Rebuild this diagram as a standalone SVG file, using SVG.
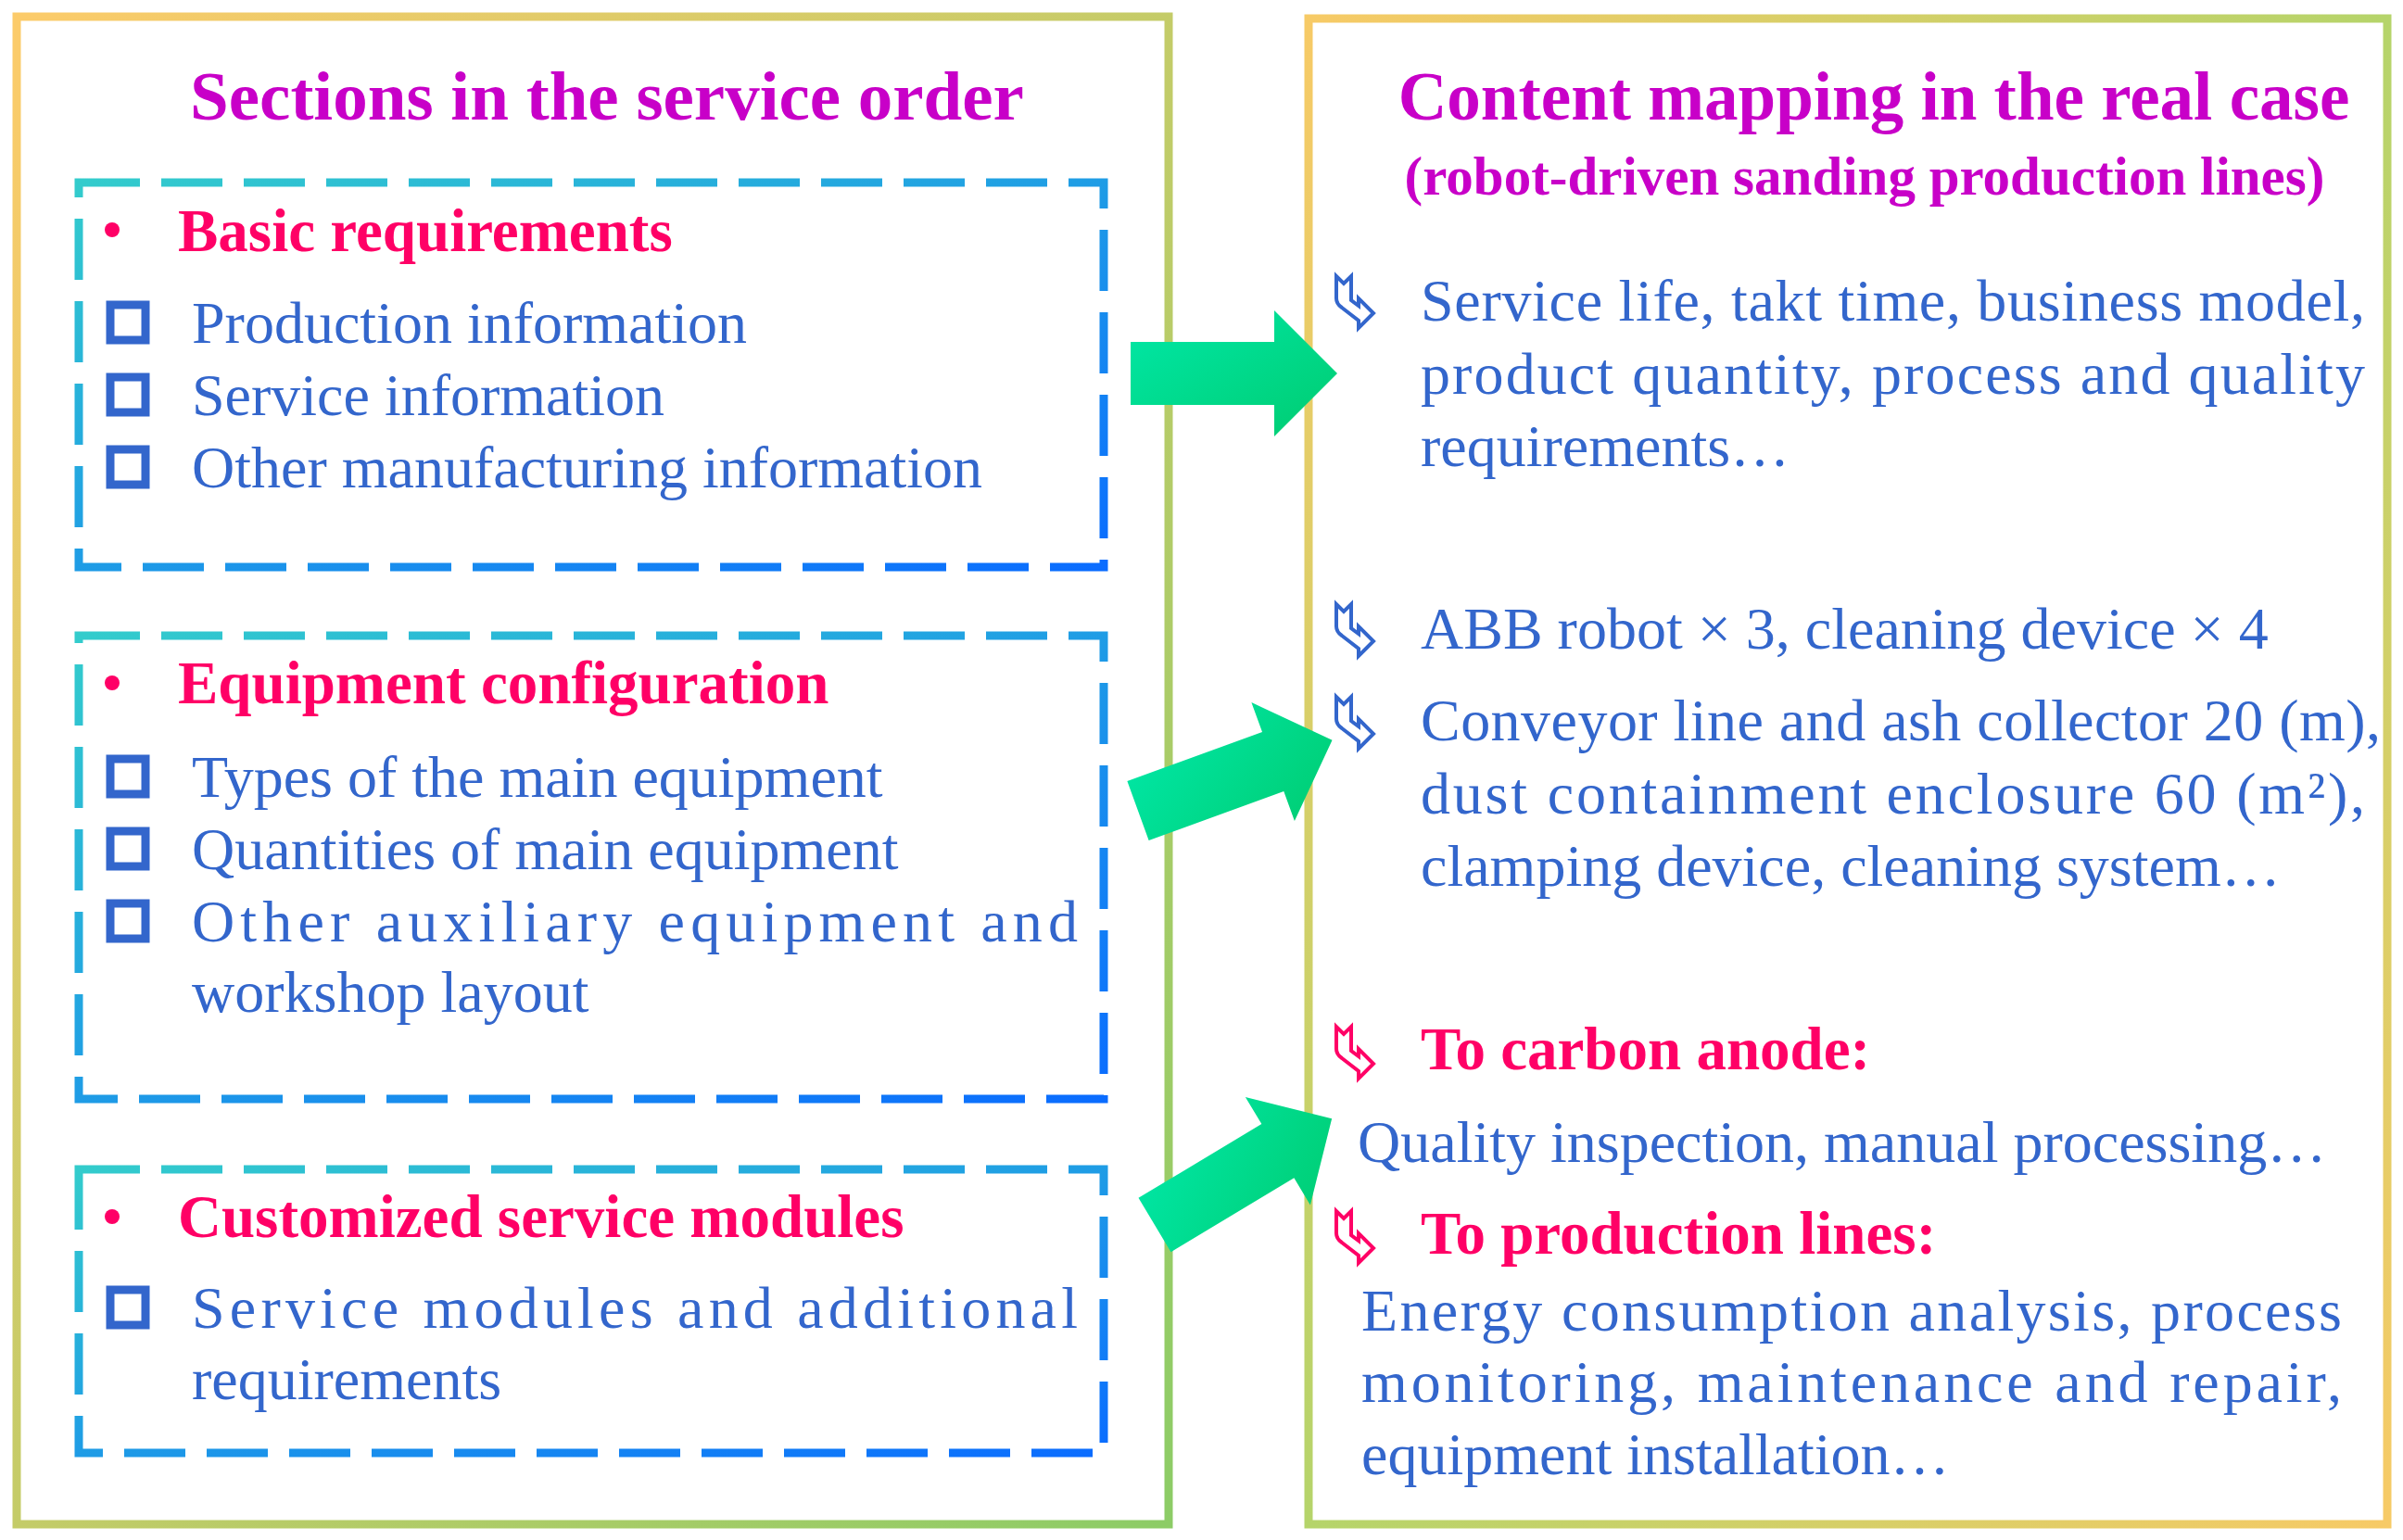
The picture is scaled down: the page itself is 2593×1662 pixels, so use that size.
<svg xmlns="http://www.w3.org/2000/svg" width="2593" height="1662" viewBox="0 0 2593 1662">
<defs>
<linearGradient id="og" x1="0" y1="0" x2="1" y2="1"><stop offset="0" stop-color="#fccb6a"/><stop offset="1" stop-color="#8ccc66"/></linearGradient>
<linearGradient id="og2" x1="1" y1="0" x2="0" y2="1"><stop offset="0" stop-color="#b5d46a"/><stop offset="0.5" stop-color="#f7ca66"/><stop offset="1" stop-color="#b5d46a"/></linearGradient>
<linearGradient id="db" x1="0" y1="0" x2="1" y2="1"><stop offset="0" stop-color="#33cccc"/><stop offset="1" stop-color="#0a6cff"/></linearGradient>
<linearGradient id="ag" x1="0" y1="0" x2="1" y2="1"><stop offset="0" stop-color="#00e8a8"/><stop offset="1" stop-color="#00cc70"/></linearGradient>
<path id="arw" d="M0,-34 H155 V-68 L223,0 L155,68 V34 H0 Z" fill="url(#ag)"/>
<path id="ico" d="M0,0 V24 Q0,30 6,34 L24,48 V56 L40,40 L24,24 V32 L16,26 V0 L8,8 Z" fill="none" stroke-width="4"/>
</defs>
<style>
.t{font-family:"Liberation Serif",serif}
.ti{font-size:75px;font-weight:bold;fill:#c800c8}
.h{font-size:65px;font-weight:bold;fill:#ff0066}
.b{font-size:64px;fill:#3366cc}
.cb{fill:none;stroke:#3366cc;stroke-width:9}
.dash{fill:none;stroke:url(#db);stroke-width:9;stroke-dasharray:66 23}
</style>
<rect width="2593" height="1662" fill="#fff"/>
<g id="left">
<rect x="18" y="18" width="1243" height="1627" fill="none" stroke="url(#og)" stroke-width="9"/>
<text class="t ti" x="655" y="129" text-anchor="middle">Sections in the service order</text>
</g>
<g id="box1">
<rect class="dash" x="85" y="197" width="1106" height="415"/>
<circle cx="121" cy="248" r="8" fill="#ff0066"/>
<text class="t h" x="192" y="271">Basic requirements</text>
<rect class="cb" x="119" y="329" width="38" height="38"/><text class="t b" x="207" y="370">Production information</text>
<rect class="cb" x="119" y="407" width="38" height="38"/><text class="t b" x="207" y="448">Service information</text>
<rect class="cb" x="119" y="485" width="38" height="38"/><text class="t b" x="207" y="526">Other manufacturing information</text>
</g>
<g id="box2">
<rect class="dash" x="85" y="686" width="1106" height="500"/>
<circle cx="121" cy="737" r="8" fill="#ff0066"/>
<text class="t h" x="192" y="759">Equipment configuration</text>
<rect class="cb" x="119" y="819" width="38" height="38"/><text class="t b" x="207" y="860">Types of the main equipment</text>
<rect class="cb" x="119" y="897" width="38" height="38"/><text class="t b" x="207" y="938">Quantities of main equipment</text>
<rect class="cb" x="119" y="975" width="38" height="38"/><text class="t b" x="207" y="1016" textLength="956" lengthAdjust="spacing">Other auxiliary equipment and</text>
<text class="t b" x="207" y="1092">workshop layout</text>
</g>
<g id="box3">
<rect class="dash" x="85" y="1262" width="1106" height="306"/>
<circle cx="121" cy="1313" r="8" fill="#ff0066"/>
<text class="t h" x="192" y="1335">Customized service modules</text>
<rect class="cb" x="119" y="1392" width="38" height="38"/><text class="t b" x="207" y="1433" textLength="956" lengthAdjust="spacing">Service modules and additional</text>
<text class="t b" x="207" y="1510">requirements</text>
</g>
<g id="right">
<rect x="1412" y="20" width="1164" height="1625" fill="none" stroke="url(#og2)" stroke-width="9"/>
<text class="t ti" x="2022" y="129" text-anchor="middle" style="font-size:73px">Content mapping in the real case</text>
<text class="t ti" x="2012" y="210" text-anchor="middle" style="font-size:59px">(robot-driven sanding production lines)</text>
<use href="#ico" x="1442" y="298" stroke="#3366cc"/>
<text class="t b" x="1533" y="346" textLength="1019" lengthAdjust="spacing">Service life, takt time, business model,</text>
<text class="t b" x="1533" y="425" textLength="1019" lengthAdjust="spacing">product quantity, process and quality</text>
<text class="t b" x="1533" y="503">requirements…</text>
<use href="#ico" x="1442" y="652" stroke="#3366cc"/>
<text class="t b" x="1533" y="700">ABB robot × 3, cleaning device × 4</text>
<use href="#ico" x="1442" y="752" stroke="#3366cc"/>
<text class="t b" x="1533" y="799" textLength="1036" lengthAdjust="spacing">Conveyor line and ash collector 20 (m),</text>
<text class="t b" x="1533" y="878" textLength="1019" lengthAdjust="spacing">dust containment enclosure 60 (m²),</text>
<text class="t b" x="1533" y="956">clamping device, cleaning system…</text>
<use href="#ico" x="1442" y="1108" stroke="#ff0066"/>
<text class="t h" x="1533" y="1154">To carbon anode:</text>
<text class="t b" x="1465" y="1254">Quality inspection, manual processing…</text>
<use href="#ico" x="1442" y="1307" stroke="#ff0066"/>
<text class="t h" x="1533" y="1353">To production lines:</text>
<text class="t b" x="1469" y="1436" textLength="1058" lengthAdjust="spacing">Energy consumption analysis, process</text>
<text class="t b" x="1469" y="1513" textLength="1058" lengthAdjust="spacing">monitoring, maintenance and repair,</text>
<text class="t b" x="1469" y="1591">equipment installation…</text>
</g>
<g id="connectors">
<use href="#arw" transform="translate(1220,403)"/>
<use href="#arw" transform="translate(1228,875) rotate(-20)"/>
<use href="#arw" transform="translate(1246,1322) rotate(-31)"/>
</g>
</svg>
